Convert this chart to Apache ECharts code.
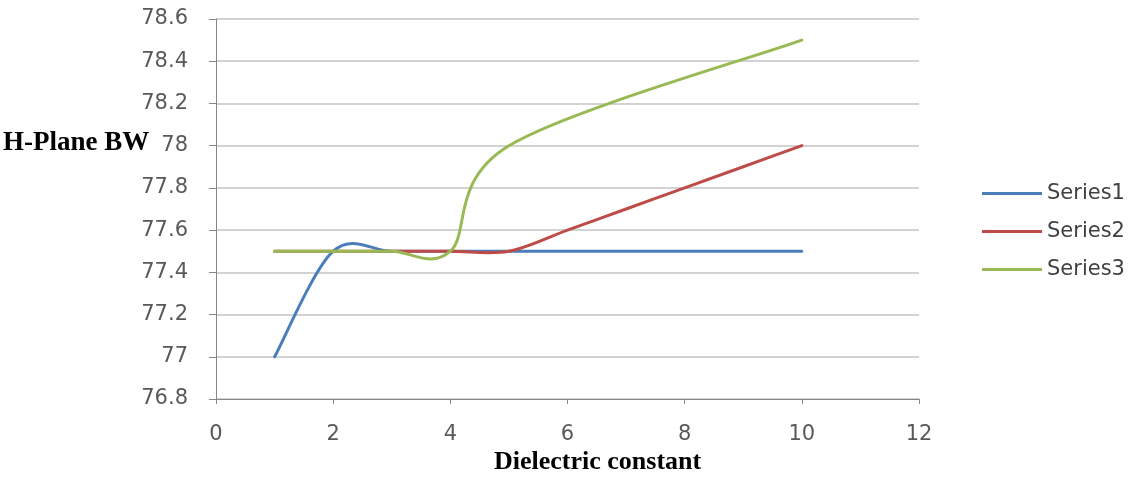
<!DOCTYPE html>
<html>
<head>
<meta charset="utf-8">
<title>H-Plane BW vs Dielectric constant</title>
<script src="https://cdn.jsdelivr.net/npm/echarts@6/dist/echarts.min.js"></script>
<style>
  html, body { margin: 0; padding: 0; background: #ffffff; }
  #chart { width: 1131px; height: 479px; }
</style>
</head>
<body>
<div id="chart"></div>
<script>
// Measured H-plane beamwidth for three configurations across substrate permittivity
const seriesNames = ['Series1', 'Series2', 'Series3'];
const series1X = [1, 2, 3, 4, 5, 6, 7, 8, 9, 10];
const series1Y = [77, 77.5, 77.5, 77.5, 77.5, 77.5, 77.5, 77.5, 77.5, 77.5];
const series2X = [1, 2, 3, 4, 5, 6, 7, 8, 9, 10];
const series2Y = [77.5, 77.5, 77.5, 77.5, 77.5, 77.6, 77.7, 77.8, 77.9, 78];
const series3X = [1, 2, 3, 4, 5, 10];
const series3Y = [77.5, 77.5, 77.5, 77.5, 78, 78.5];
const xTicks = { min: 0, max: 12, step: 2 };
const yTicks = { min: 76.8, max: 78.6, step: 0.2 };

const colors = ['#4A7EBB', '#BE4B48', '#98B954'];
const seriesX = [series1X, series2X, series3X];
const seriesY = [series1Y, series2Y, series3Y];

// Smoothed curve: cubic Bezier segments through each data point,
// control points taken from the neighbouring points (1/6 tangent).
function smoothPath(api, xs, ys) {
  const pts = xs.map((x, i) => api.coord([x, ys[i]]));
  let d = 'M' + pts[0][0] + ' ' + pts[0][1];
  for (let i = 0; i < pts.length - 1; i++) {
    const p0 = pts[i - 1] || pts[i];
    const p1 = pts[i];
    const p2 = pts[i + 1];
    const p3 = pts[i + 2] || pts[i + 1];
    const c1x = p1[0] + (p2[0] - p0[0]) / 6;
    const c1y = p1[1] + (p2[1] - p0[1]) / 6;
    const c2x = p2[0] - (p3[0] - p1[0]) / 6;
    const c2y = p2[1] - (p3[1] - p1[1]) / 6;
    d += ' C' + c1x + ' ' + c1y + ' ' + c2x + ' ' + c2y + ' ' + p2[0] + ' ' + p2[1];
  }
  return d;
}

const chart = echarts.init(document.getElementById('chart'), null, { renderer: 'canvas' });

const labelFont = 'DejaVu Sans';

const option = {
  backgroundColor: '#ffffff',
  animation: false,
  grid: { left: 216, right: 212, top: 19, bottom: 80 },
  legend: {
    orient: 'vertical',
    left: 977,
    top: 178,
    icon: 'rect',
    itemWidth: 60,
    itemHeight: 3,
    itemGap: 17,
    data: seriesNames,
    textStyle: { fontFamily: labelFont, fontSize: 21, color: '#404040' },
    selectedMode: false
  },
  xAxis: {
    type: 'value',
    min: xTicks.min,
    max: xTicks.max,
    interval: xTicks.step,
    axisLine: { show: true, lineStyle: { color: '#868686', width: 1 } },
    axisTick: { show: true, length: 5, lineStyle: { color: '#868686' } },
    splitLine: { show: false },
    axisLabel: { margin: 25, fontFamily: labelFont, fontSize: 21, color: '#595959' }
  },
  yAxis: {
    type: 'value',
    min: yTicks.min,
    max: yTicks.max,
    interval: yTicks.step,
    axisLine: { show: true, lineStyle: { color: '#868686', width: 1 } },
    axisTick: { show: true, length: 7, lineStyle: { color: '#868686' } },
    splitLine: { show: true, lineStyle: { color: '#c4c4c4', width: 1.5 } },
    axisLabel: {
      margin: 28,
      fontFamily: labelFont,
      fontSize: 21,
      color: '#595959',
      formatter: v => String(+v.toFixed(1))
    }
  },
  graphic: [
    {
      type: 'text',
      left: 3,
      top: 130,
      style: {
        text: 'H-Plane BW',
        font: 'bold 27px "Liberation Serif", "Times New Roman", serif',
        fill: '#000000'
      }
    },
    {
      type: 'text',
      left: 494,
      top: 449,
      style: {
        text: 'Dielectric constant',
        font: 'bold 26px "Liberation Serif", "Times New Roman", serif',
        fill: '#000000'
      }
    }
  ],
  series: seriesNames.map((name, k) => ({
    name: name,
    type: 'custom',
    coordinateSystem: 'cartesian2d',
    itemStyle: { color: colors[k] },
    data: [[seriesX[k][0], seriesY[k][0]]],
    encode: { x: 0, y: 1 },
    z: 3 + k,
    renderItem: function (params, api) {
      return {
        type: 'path',
        shape: { pathData: smoothPath(api, seriesX[k], seriesY[k]) },
        style: {
          fill: 'none',
          stroke: colors[k],
          lineWidth: 3,
          lineCap: 'round',
          lineJoin: 'round'
        }
      };
    }
  }))
};

chart.setOption(option);
</script>
</body>
</html>
